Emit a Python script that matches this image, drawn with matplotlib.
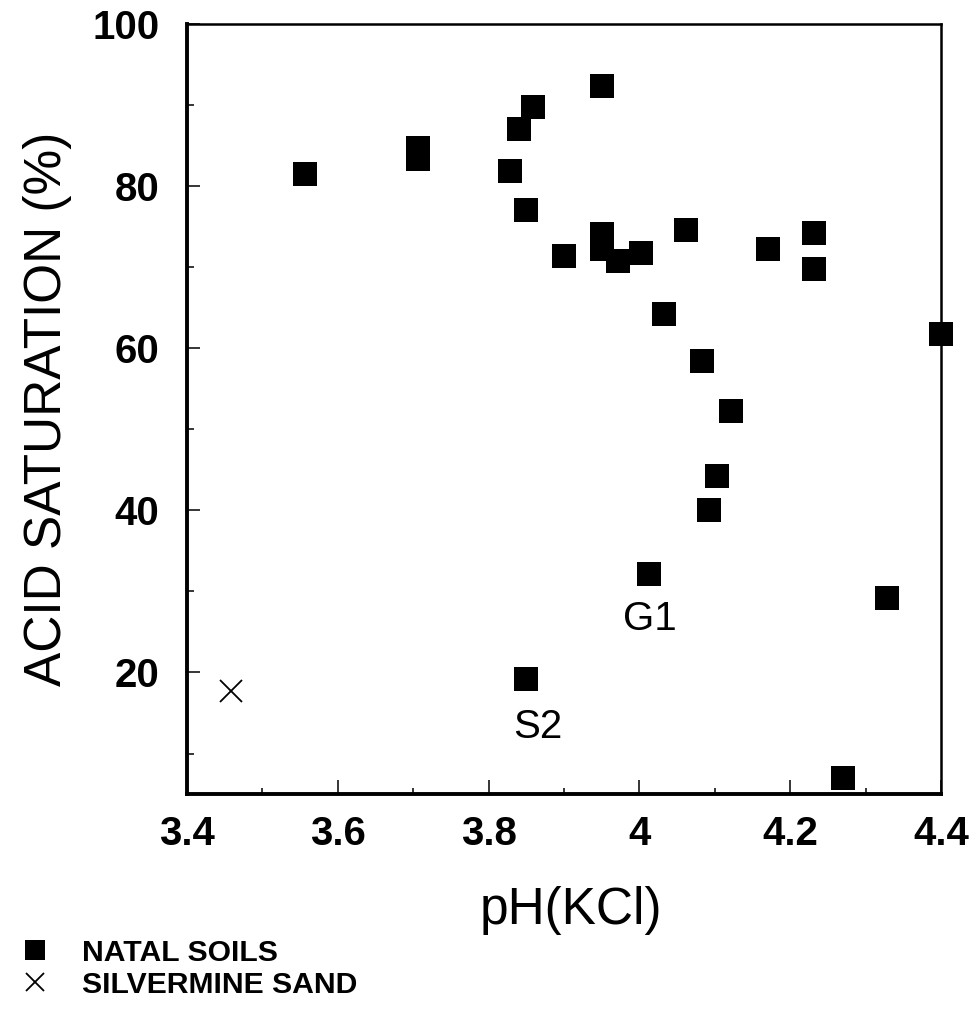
import matplotlib
matplotlib.use("Agg")
import matplotlib.pyplot as plt
from matplotlib import font_manager
from matplotlib.ticker import MultipleLocator, FuncFormatter

# Natal soils (filled squares)
natal_ph = [3.556, 3.706, 3.706, 3.859, 3.840, 3.829, 3.850, 3.900, 3.950,
            3.950, 3.950, 3.971, 4.002, 4.062, 4.170, 4.231, 4.231, 4.033,
            4.400, 4.083, 4.122, 4.103, 4.092, 4.013, 4.328, 4.270, 3.850]
natal_acid = [81.5, 84.7, 83.3, 89.8, 87.0, 81.9, 77.0, 71.4, 92.4,
              74.1, 72.3, 70.8, 71.8, 74.6, 72.3, 74.2, 69.8, 64.2,
              61.7, 58.4, 52.2, 44.2, 40.1, 32.1, 29.2, 7.0, 19.2]

# Silvermine sand (cross)
sand_ph = [3.458]
sand_acid = [17.7]

# labelled samples
labels = ["S2", "G1"]
label_ph = [3.850, 4.013]
label_acid = [19.2, 32.1]

x_ticks = [3.4, 3.6, 3.8, 4.0, 4.2, 4.4]
y_ticks = [20, 40, 60, 80, 100]

installed = {f.name for f in font_manager.fontManager.ttflist}
narrow = "Liberation Sans Narrow" if "Liberation Sans Narrow" in installed else "Liberation Sans"
plt.rcParams["font.family"] = ["Liberation Sans", "DejaVu Sans"]

fig = plt.figure(figsize=(9.77, 10.18), dpi=100)
ax = fig.add_axes([0.1914, 0.2200, 0.7718, 0.7564])

ax.plot(natal_ph, natal_acid, linestyle="none", marker="s", markersize=17.3,
        markeredgewidth=0, color="black", clip_on=False, label="NATAL SOILS")
ax.plot(sand_ph, sand_acid, linestyle="none", marker="x", markersize=16,
        markeredgewidth=1.3, color="black", clip_on=False, label="SILVERMINE SAND")

offsets = {"S2": (8, -34.5), "G1": (0.7, -32)}
for name, px, py in zip(labels, label_ph, label_acid):
    ax.annotate(name, (px, py), xytext=offsets[name], textcoords="offset points",
                ha="center", va="center", fontsize=29)

ax.set_xlim(3.4, 4.4)
ax.set_ylim(5, 100)
ax.set_xticks(x_ticks)
ax.set_yticks(y_ticks)
ax.xaxis.set_minor_locator(MultipleLocator(0.1))
ax.yaxis.set_minor_locator(MultipleLocator(10))
ax.xaxis.set_major_formatter(FuncFormatter(lambda v, p: f"{v:g}"))

ax.tick_params(which="both", direction="in", top=False, right=False, width=1.1, color="black")
ax.tick_params(axis="x", which="major", length=10, pad=15)
ax.tick_params(axis="x", which="minor", length=4.5)
ax.tick_params(axis="y", which="major", length=9.5, pad=20)
ax.tick_params(axis="y", which="minor", length=5)
for lab in ax.get_xticklabels() + ax.get_yticklabels():
    lab.set_family([narrow, "DejaVu Sans"])
    lab.set_fontweight("bold")
    lab.set_fontsize(29)

for side in ["left", "bottom"]:
    ax.spines[side].set_linewidth(2.8)
for side in ["top", "right"]:
    ax.spines[side].set_linewidth(1.8)

ax.set_xlabel("pH(KCl)", fontsize=37)
ax.set_ylabel("ACID SATURATION (%)", fontsize=37)
ax.xaxis.set_label_coords(0.509, -0.119)
ax.yaxis.set_label_coords(-0.1525, 0.5)

leg = ax.legend(loc="upper left", bbox_to_anchor=(20 / 977, 1 - 939 / 1018),
                bbox_transform=fig.transFigure, frameon=False,
                prop={"weight": "bold", "size": 21.7}, borderpad=0, borderaxespad=0,
                handlelength=0.97, handletextpad=1.08, labelspacing=0.12,
                markerscale=0.83)

fig.savefig("out.png", dpi=100, facecolor="white")
